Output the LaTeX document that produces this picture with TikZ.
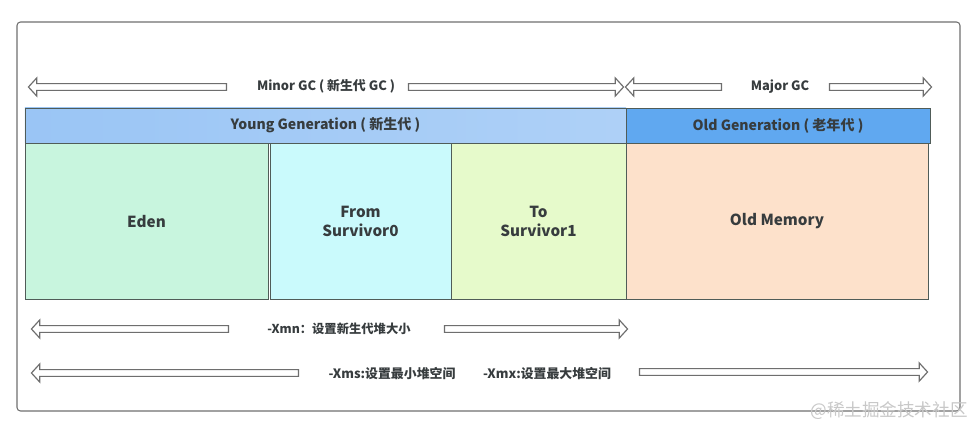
\documentclass[tikz,border=0pt]{standalone}
\usepackage{fontspec}
\setmainfont{Noto Sans CJK SC}
\usepackage{tikz}
\usetikzlibrary{shapes.arrows,positioning}
\definecolor{gcframe}{RGB}{110,110,110}
\definecolor{gcline}{RGB}{80,92,88}
\definecolor{gctext}{RGB}{55,60,62}
\definecolor{younghdr}{RGB}{154,197,245}
\definecolor{oldhdr}{RGB}{96,168,240}
\definecolor{edenfill}{RGB}{200,245,222}
\definecolor{fromfill}{RGB}{202,250,252}
\definecolor{tofill}{RGB}{230,250,203}
\definecolor{oldfill}{RGB}{253,225,203}
\definecolor{markgray}{RGB}{200,200,200}

\begin{document}
\begin{tikzpicture}[x=0.03cm, y=-0.03cm,
    hdr/.style={rectangle, draw=gcline, line width=0.8pt, minimum height=1.05cm,
      text=gctext, font=\bfseries\fontsize{12}{14}\selectfont, inner sep=0pt},
    cel/.style={rectangle, draw=gcline, line width=0.8pt, minimum height=4.68cm,
      text=gctext, font=\bfseries\fontsize{13}{15.5}\selectfont, align=center, inner sep=0pt},
    gcarrow/.style={single arrow, draw=gcframe, fill=white, line width=1pt,
      minimum width=0.54cm, single arrow head extend=0.16cm, inner sep=0.08cm,
      single arrow tip angle=95},
    gcleft/.style={gcarrow, shape border rotate=180},
    gclabel/.style={text=gctext, font=\bfseries\fontsize{11}{13}\selectfont, inner sep=1pt}
  ]
    \useasboundingbox (0,0) rectangle (976,429);
    % Frame
    \draw[gcframe, line width=0.9pt, rounded corners=3pt] (17,22) rectangle (960,411);

    % GC arrows
    \node[gcleft, minimum height=5.94cm] (minorL) at (129,87) {};
    \node[gclabel] (minor) at (326,86) {Minor GC ( 新生代 GC )};
    \node[gcarrow, minimum height=6.45cm] (minorR) at (514.5,87) {};
    \node[gcleft, minimum height=2.88cm] (majorL) at (675,87) {};
    \node[gclabel] (major) at (780,87) {Major GC};
    \node[gcarrow, minimum height=3.06cm] (majorR) at (879,87) {};

    % Headers
    \node[hdr, minimum width=18.03cm, left color=younghdr, right color=younghdr!80!white] (young) at (325.5,125.5) {Young Generation ( 新生代 )};
    \node[hdr, minimum width=9.12cm, fill=oldhdr] (oldgen) at (778,125.5) {Old Generation ( 老年代 )};

    % Cells
    \node[cel, minimum width=7.29cm, fill=edenfill] (eden) at (146.5,221.5) {Eden};
    \node[cel, minimum width=5.43cm, fill=fromfill] (from) at (360.5,221.5) {From\\Survivor0};
    \node[cel, minimum width=5.25cm, fill=tofill] (to) at (538.5,221.5) {To\\Survivor1};
    \node[cel, minimum width=9.06cm, fill=oldfill] (oldmem) at (777,221.5) {Old Memory};

    % Heap options
    \node[gcleft, minimum height=5.91cm] (xmnL) at (131.5,329) {};
    \node[gclabel, font=\bfseries\fontsize{10.5}{12}\selectfont] (xmn) at (339,329) {-Xmn：设置新生代堆大小};
    \node[gcarrow, minimum height=5.49cm] (xmnR) at (534.5,329) {};
    \node[gcleft, minimum height=8.01cm] (xmsL) at (166.5,373) {};
    \node[gclabel] (xms) at (392,374) {-Xms:设置最小堆空间};
    \node[gclabel] (xmx) at (547,374) {-Xmx:设置最大堆空间};
    \node[gcarrow, minimum height=8.64cm] (xmxR) at (782,372) {};

    % Watermark
    \node[text=markgray, font=\fontsize{15}{17}\selectfont, inner sep=0pt] (mark) at (889,411) {@稀土掘金技术社区};
  \end{tikzpicture}
\end{document}
